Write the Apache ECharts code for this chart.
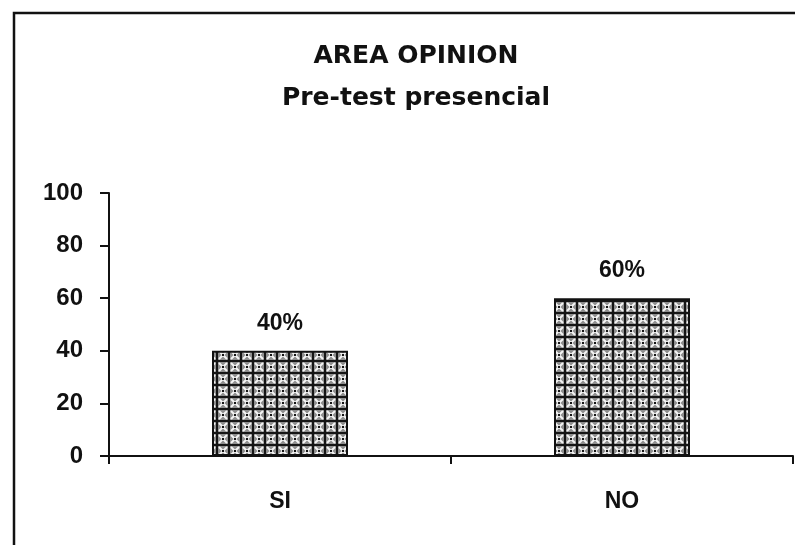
<!DOCTYPE html>
<html>
<head>
<meta charset="utf-8">
<script src="https://cdn.jsdelivr.net/npm/echarts@6/dist/echarts.min.js"></script>
<style>
  html, body { margin: 0; padding: 0; background: #fff; }
  #chart { width: 795px; height: 545px; }
</style>
</head>
<body>
<div id="chart"></div>
<script>
const categories = ["SI", "NO"];
const percentages = [40, 60];
const yTicks = [0, 20, 40, 60, 80, 100];

// little cross-hatch tile for the bar fill
const makeHatch = () => {
  const c = document.createElement("canvas");
  c.width = 12;
  c.height = 12;
  const ctx = c.getContext("2d");
  ctx.fillStyle = "#8e8e8e";
  ctx.fillRect(0, 0, 12, 12);
  ctx.strokeStyle = "#f4f4f4";
  ctx.lineWidth = 2;
  ctx.beginPath();
  ctx.moveTo(3, 3); ctx.lineTo(11, 11);
  ctx.moveTo(11, 3); ctx.lineTo(3, 11);
  ctx.stroke();
  ctx.fillStyle = "#151515";
  ctx.fillRect(0, 0, 12, 2);
  ctx.fillRect(0, 0, 2, 12);
  ctx.fillRect(6, 6, 2, 2);
  return c;
};

const chart = echarts.init(document.getElementById("chart"));
const font = "'Liberation Sans', Arial, sans-serif";

chart.setOption({
  animation: false,
  backgroundColor: "#fff",
  title: {
    text: "AREA OPINION\nPre-test presencial",
    left: 411,
    top: 30,
    textAlign: "center",
    textStyle: {
      fontFamily: "'DejaVu Sans', sans-serif",
      fontWeight: "bold",
      fontSize: 25,
      lineHeight: 42,
      color: "#111",
    },
  },
  graphic: [
    {
      type: "rect",
      shape: { x: 14, y: 13, width: 800, height: 560 },
      style: { fill: null, stroke: "#111", lineWidth: 2.5 },
      silent: true,
    },
  ],
  grid: { left: 109, right: 2, top: 193, bottom: 89 },
  xAxis: {
    type: "category",
    data: categories,
    axisLine: { lineStyle: { color: "#111", width: 2 } },
    axisTick: { show: true, length: 8, lineStyle: { color: "#111", width: 2 } },
    axisLabel: {
      margin: 34,
      fontFamily: font,
      fontWeight: "bold",
      fontSize: 23,
      color: "#111",
    },
  },
  yAxis: {
    type: "value",
    min: yTicks[0],
    max: yTicks[yTicks.length - 1],
    interval: 20,
    splitLine: { show: false },
    axisLine: { show: true, lineStyle: { color: "#111", width: 2 } },
    axisTick: { show: true, length: 9, lineStyle: { color: "#111", width: 2 } },
    axisLabel: {
      margin: 26,
      fontFamily: font,
      fontWeight: "bold",
      fontSize: 24,
      color: "#111",
    },
  },
  series: [
    {
      type: "bar",
      data: percentages,
      barWidth: 136,
      itemStyle: {
        color: { image: makeHatch(), repeat: "repeat" },
        borderColor: "#111",
        borderWidth: 2,
      },
      label: {
        show: true,
        position: "top",
        distance: 16,
        formatter: "{c}%",
        fontFamily: font,
        fontWeight: "bold",
        fontSize: 23,
        color: "#111",
      },
    },
  ],
});
</script>
</body>
</html>
